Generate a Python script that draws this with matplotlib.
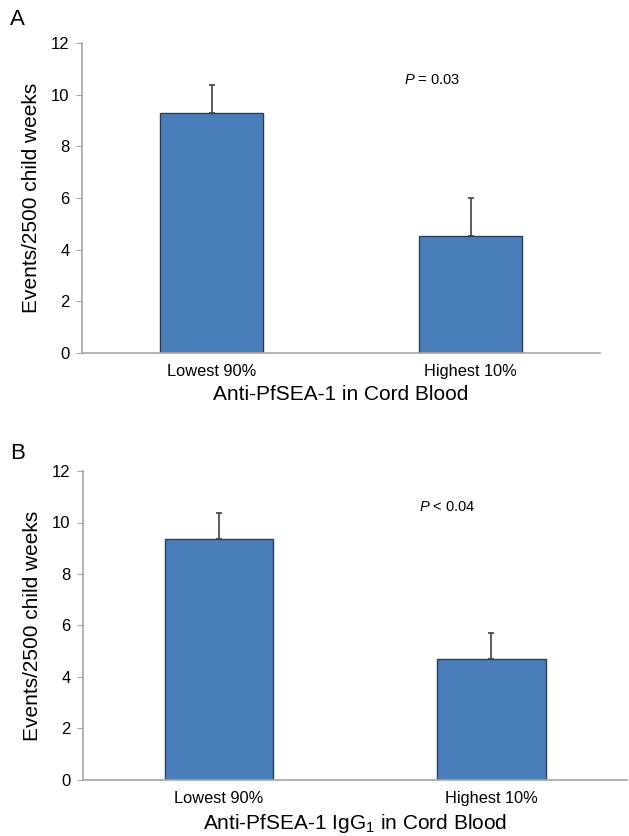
import matplotlib.pyplot as plt

plt.rcParams['font.family'] = ['Liberation Sans', 'DejaVu Sans']
plt.rcParams['mathtext.fontset'] = 'custom'
plt.rcParams['mathtext.rm'] = 'Liberation Sans'
plt.rcParams['mathtext.it'] = 'Liberation Sans:italic'

groups = ['Lowest 90%', 'Highest 10%']
rates_a = [9.3, 4.53]
err_a = [1.07, 1.47]
rates_b = [9.35, 4.7]
err_b = [1.0, 1.0]
yticks = [0, 2, 4, 6, 8, 10, 12]

bar_color = '#4a7ebb'
edge_color = '#2c3e55'
axis_color = '#a6a6a6'


def panel(ax, vals, errs, xlabel, ptext, ppos):
    x = range(len(groups))
    ax.bar(x, vals, width=0.4, color=bar_color, edgecolor=edge_color, linewidth=1.0, zorder=2)
    ax.errorbar(x, vals, yerr=[[0] * len(errs), errs], fmt='none', ecolor='#404040',
                elinewidth=1.2, capsize=2, capthick=1.2, zorder=3)
    ax.set_xlim(-0.5, 1.5)
    ax.set_ylim(0, 12)
    ax.set_yticks(yticks)
    ax.set_xticks(list(x))
    ax.set_xticklabels(groups, fontsize=11.8)
    ax.tick_params(axis='x', length=0, pad=8)
    ax.tick_params(axis='y', labelsize=12, length=4, color=axis_color, pad=5)
    for s in ['top', 'right']:
        ax.spines[s].set_visible(False)
    for s in ['left', 'bottom']:
        ax.spines[s].set_color(axis_color)
        ax.spines[s].set_linewidth(1.2)
    ax.set_ylabel('Events/2500 child weeks', fontsize=15, labelpad=7)
    ax.set_xlabel(xlabel, fontsize=15, labelpad=4)
    ax.text(ppos[0], ppos[1], ptext, fontsize=10.5, ha='center', va='center')


fig = plt.figure(figsize=(6.29, 8.36), dpi=100)
ax1 = fig.add_axes([0.1304, 0.5778, 0.8235, 0.3708])
ax2 = fig.add_axes([0.132, 0.067, 0.865, 0.3696])

panel(ax1, rates_a, err_a, 'Anti-PfSEA-1 in Cord Blood', '$P$ = 0.03', (0.85, 10.57))
panel(ax2, rates_b, err_b, 'Anti-PfSEA-1 IgG$_1$ in Cord Blood', '$P$ < 0.04', (0.84, 10.6))

fig.text(0.016, 0.977, 'A', fontsize=16, va='center')
fig.text(0.016, 0.457, 'B', fontsize=16, va='center')

fig.savefig('out.png', dpi=100)
